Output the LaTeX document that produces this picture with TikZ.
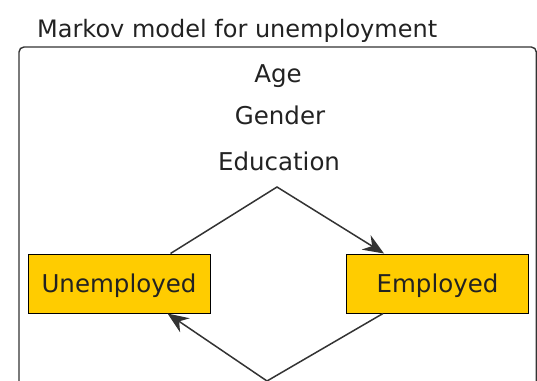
\documentclass[tikz,border=0pt]{standalone}
\usepackage{fontspec}
\setmainfont{DejaVu Sans}
\usetikzlibrary{arrows.meta}
\definecolor{boxfill}{HTML}{FFCC00}
\definecolor{ink}{HTML}{222222}
\definecolor{edge}{HTML}{333333}
\tikzset{
  statebox/.style={draw=black, line width=1pt, fill=boxfill, minimum width=182pt, minimum height=59pt, inner sep=0pt, text height=18pt, text depth=0pt, font=\fontsize{24.5}{28}\selectfont, text=ink},
  lbl/.style={anchor=base, inner sep=0pt, font=\fontsize{24.5}{28}\selectfont, text=ink},
  conn/.style={draw=edge, line width=1.5pt},
  tip/.style={-{Stealth[length=21pt,width=17pt,inset=7pt]}}
}
\begin{document}
\begin{tikzpicture}[x=1pt,y=-1pt]
\useasboundingbox (0,0) rectangle (537,380);
\begin{scope}
\clip (0,0) rectangle (537,380);
\draw[draw=edge, line width=1.4pt, rounded corners=5pt] (19,47) rectangle (536.3,420);
\node[lbl, anchor=base west, font=\fontsize{24}{28}\selectfont] (title) at (37,37) {Markov model for unemployment};
\node[lbl] (age) at (278,82) {Age};
\node[lbl] (gender) at (280,124) {Gender};
\node[lbl] (edu) at (279,170.7) {Education};
\node[statebox] (unemp) at (119,283.5) {Unemployed};
\node[statebox] (emp) at (437.5,283.5) {Employed};
\coordinate (top) at (277,187);
\coordinate (bot) at (267,381);
\draw[conn, tip] ([xshift=-40pt]unemp.north east) -- (top) -- ([xshift=38pt]emp.north west);
\draw[conn, tip] ([xshift=37pt]emp.south west) -- (bot) -- ([xshift=-43pt]unemp.south east);
\end{scope}
\end{tikzpicture}
\end{document}
